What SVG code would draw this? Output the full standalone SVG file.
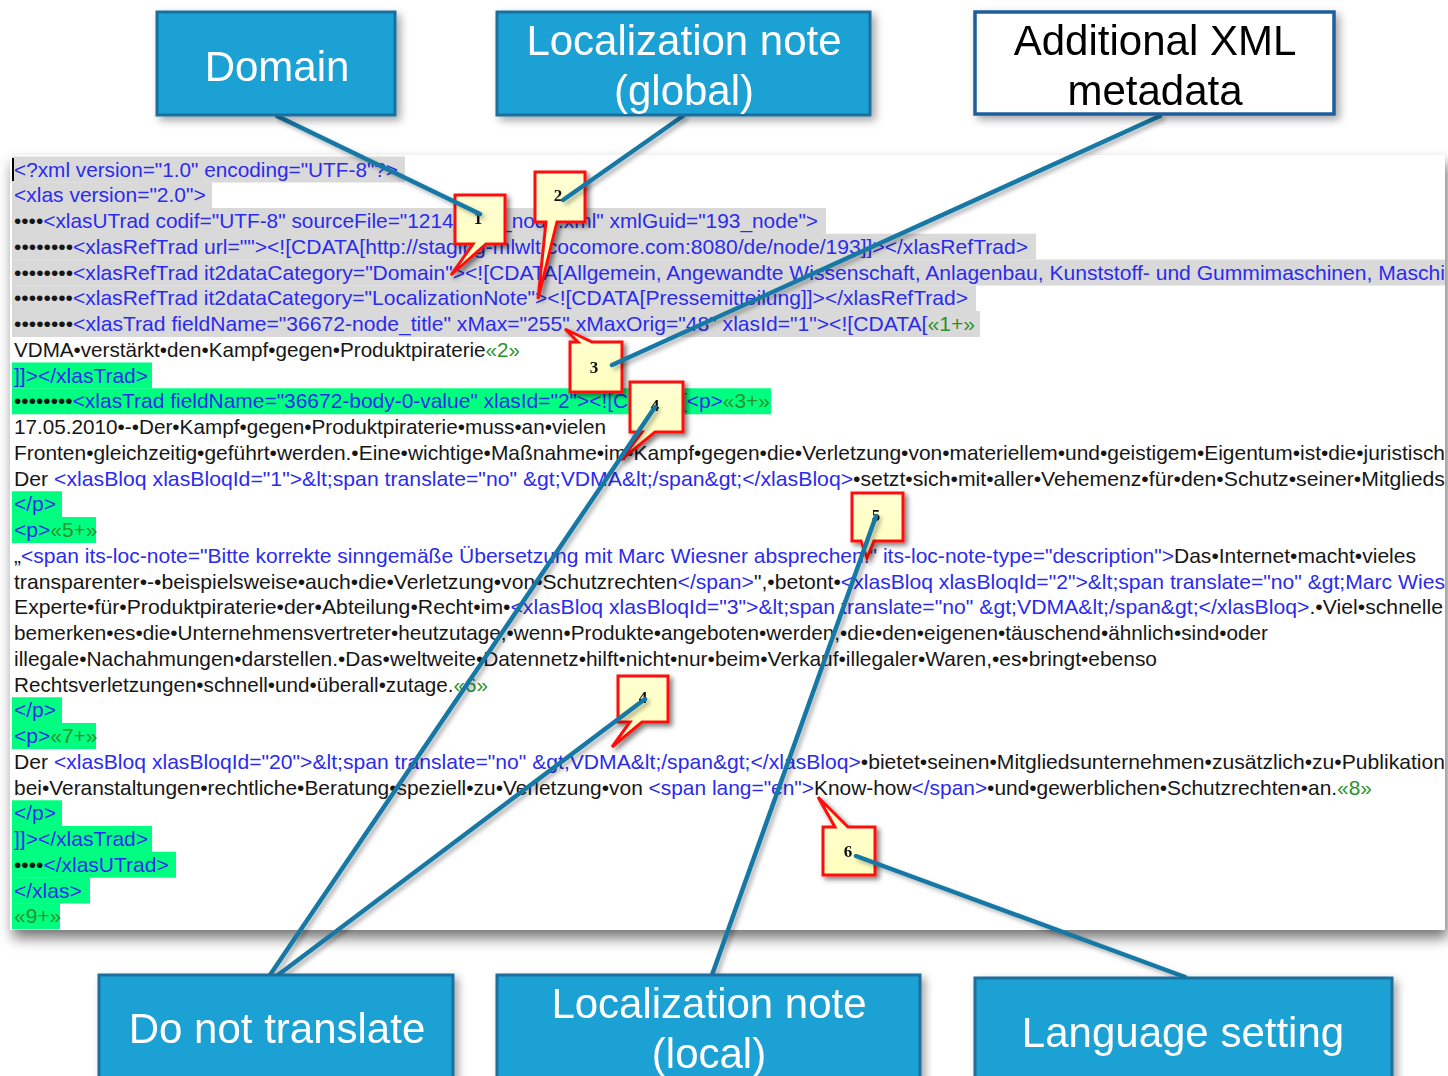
<svg xmlns="http://www.w3.org/2000/svg" width="1448" height="1076" viewBox="0 0 1448 1076">
  <defs>
    <style>
      .code { font-family: "Liberation Sans", Arial, sans-serif; font-size: 21px; }
      .b { fill: #2b2bee; }
      .k { fill: #161616; }
      .g { fill: #2a922a; }
      .selG { fill: #d9d9d9; }
      .selV { fill: #00ff80; }
      .lbl { fill: #1fa1d5; stroke: #1a6e9d; stroke-width: 3; }
      .lblText { font-family: "Liberation Sans", Arial, sans-serif; font-size: 42px; fill: #ffffff; text-anchor: middle; }
      .note { fill: url(#noteFill); stroke: #ff1010; stroke-width: 3; stroke-linejoin: miter; }
      .num { font-family: "Liberation Serif", "Times New Roman", serif; font-weight: bold; font-size: 17px; fill: #111; text-anchor: middle; }
      .conn { stroke: #1878a4; stroke-width: 4.5; stroke-linecap: round; fill: none; }
    </style>
    <linearGradient id="noteFill" x1="0" y1="0" x2="0" y2="1">
      <stop offset="0" stop-color="#ffffd2"/>
      <stop offset="1" stop-color="#ffffbe"/>
    </linearGradient>
    <filter id="panelShadow" x="-5%" y="-5%" width="110%" height="115%">
      <feDropShadow dx="3" dy="8" stdDeviation="7" flood-color="#000" flood-opacity="0.55"/>
    </filter>
    <filter id="boxShadow" x="-10%" y="-10%" width="130%" height="130%">
      <feDropShadow dx="4" dy="4" stdDeviation="4" flood-color="#000" flood-opacity="0.35"/>
    </filter>
    <filter id="noteShadow" x="-30%" y="-30%" width="170%" height="170%">
      <feDropShadow dx="3" dy="3" stdDeviation="2.5" flood-color="#000" flood-opacity="0.5"/>
    </filter>
    <filter id="lineShadow" x="-10%" y="-10%" width="130%" height="130%">
      <feDropShadow dx="3" dy="3" stdDeviation="2" flood-color="#000" flood-opacity="0.3"/>
    </filter>
    <clipPath id="panelClip">
      <rect x="10" y="155" width="1435" height="775"/>
    </clipPath>
  </defs>

  <rect width="1448" height="1076" fill="#ffffff"/>

  <!-- editor screenshot panel -->
  <g id="panel">
    <rect x="10" y="155" width="1435" height="775" fill="#ffffff" filter="url(#panelShadow)"/>
    <g clip-path="url(#panelClip)">
      <!-- selection highlights -->
      <rect class="selG" x="12" y="156.5" width="393" height="26"/>
      <rect class="selG" x="12" y="182.25" width="200" height="26"/>
      <rect class="selG" x="12" y="208" width="814" height="26"/>
      <rect class="selG" x="12" y="233.75" width="1024" height="26"/>
      <rect class="selG" x="12" y="259.5" width="1433" height="26"/>
      <rect class="selG" x="12" y="285.25" width="964" height="26"/>
      <rect class="selG" x="12" y="311" width="968" height="26"/>
      <rect class="selV" x="12" y="362.5" width="140" height="26"/>
      <rect class="selV" x="12" y="388.25" width="759" height="26"/>
      <rect class="selV" x="12" y="491.25" width="50" height="26"/>
      <rect class="selV" x="12" y="517" width="84" height="26"/>
      <rect class="selV" x="12" y="697.25" width="50" height="26"/>
      <rect class="selV" x="12" y="723" width="84" height="26"/>
      <rect class="selV" x="12" y="800.25" width="50" height="26"/>
      <rect class="selV" x="12" y="826" width="140" height="26"/>
      <rect class="selV" x="12" y="851.75" width="164" height="26"/>
      <rect class="selV" x="12" y="877.5" width="78" height="26"/>
      <rect class="selV" x="12" y="903.25" width="48" height="26"/>
      <!-- caret -->
      <rect x="12" y="158" width="2" height="23" fill="#000"/>

      <!-- source lines -->
      <text class="code" x="14" y="176.5" textLength="384" lengthAdjust="spacingAndGlyphs"><tspan class="b">&lt;?xml version="1.0" encoding="UTF-8"?&gt;</tspan></text>
      <text class="code" x="14" y="202.25"><tspan class="b">&lt;xlas version="2.0"&gt;</tspan></text>
      <text class="code" x="14" y="228" textLength="804" lengthAdjust="spacingAndGlyphs"><tspan class="k">••••</tspan><tspan class="b">&lt;xlasUTrad codif="UTF-8" sourceFile="1214_193_node.xml" xmlGuid="193_node"&gt;</tspan></text>
      <text class="code" x="14" y="253.75" textLength="1014" lengthAdjust="spacingAndGlyphs"><tspan class="k">••••••••</tspan><tspan class="b">&lt;xlasRefTrad url=""&gt;&lt;![CDATA[http://staging-mlwlt.cocomore.com:8080/de/node/193]]&gt;&lt;/xlasRefTrad&gt;</tspan></text>
      <text class="code" x="14" y="279.5" textLength="1431" lengthAdjust="spacingAndGlyphs"><tspan class="k">••••••••</tspan><tspan class="b">&lt;xlasRefTrad it2dataCategory="Domain"&gt;&lt;![CDATA[Allgemein, Angewandte Wissenschaft, Anlagenbau, Kunststoff- und Gummimaschinen, Maschi</tspan></text>
      <text class="code" x="14" y="305.25" textLength="954" lengthAdjust="spacingAndGlyphs"><tspan class="k">••••••••</tspan><tspan class="b">&lt;xlasRefTrad it2dataCategory="LocalizationNote"&gt;&lt;![CDATA[Pressemitteilung]]&gt;&lt;/xlasRefTrad&gt;</tspan></text>
      <text class="code" x="14" y="331" textLength="961" lengthAdjust="spacingAndGlyphs"><tspan class="k">••••••••</tspan><tspan class="b">&lt;xlasTrad fieldName="36672-node_title" xMax="255" xMaxOrig="48" xlasId="1"&gt;&lt;![CDATA[</tspan><tspan class="g">«1+»</tspan></text>
      <text class="code" x="14" y="356.75" textLength="506" lengthAdjust="spacingAndGlyphs"><tspan class="k">VDMA•verstärkt•den•Kampf•gegen•Produktpiraterie</tspan><tspan class="g">«2»</tspan></text>
      <text class="code" x="14" y="382.5"><tspan class="b">]]&gt;&lt;/xlasTrad&gt;</tspan></text>
      <text class="code" x="14" y="408.25" textLength="756" lengthAdjust="spacingAndGlyphs"><tspan class="k">••••••••</tspan><tspan class="b">&lt;xlasTrad fieldName="36672-body-0-value" xlasId="2"&gt;&lt;![CDATA[&lt;p&gt;</tspan><tspan class="g">«3+»</tspan></text>
      <text class="code" x="14" y="434" textLength="592" lengthAdjust="spacingAndGlyphs"><tspan class="k">17.05.2010•-•Der•Kampf•gegen•Produktpiraterie•muss•an•vielen</tspan></text>
      <text class="code" x="14" y="459.75" textLength="1431" lengthAdjust="spacingAndGlyphs"><tspan class="k">Fronten•gleichzeitig•geführt•werden.•Eine•wichtige•Maßnahme•im•Kampf•gegen•die•Verletzung•von•materiellem•und•geistigem•Eigentum•ist•die•juristisch</tspan></text>
      <text class="code" x="14" y="485.5" textLength="1431" lengthAdjust="spacingAndGlyphs"><tspan class="k">Der </tspan><tspan class="b">&lt;xlasBloq xlasBloqId="1"&gt;&amp;lt;span translate="no" &amp;gt;VDMA&amp;lt;/span&amp;gt;&lt;/xlasBloq&gt;</tspan><tspan class="k">•setzt•sich•mit•aller•Vehemenz•für•den•Schutz•seiner•Mitglieds</tspan></text>
      <text class="code" x="14" y="511.25"><tspan class="b">&lt;/p&gt;</tspan></text>
      <text class="code" x="14" y="537"><tspan class="b">&lt;p&gt;</tspan><tspan class="g">«5+»</tspan></text>
      <text class="code" x="14" y="562.75" textLength="1402" lengthAdjust="spacingAndGlyphs"><tspan class="k">„</tspan><tspan class="b">&lt;span its-loc-note="Bitte korrekte sinngemäße Übersetzung mit Marc Wiesner absprechen." its-loc-note-type="description"&gt;</tspan><tspan class="k">Das•Internet•macht•vieles</tspan></text>
      <text class="code" x="14" y="588.5" textLength="1431" lengthAdjust="spacingAndGlyphs"><tspan class="k">transparenter•-•beispielsweise•auch•die•Verletzung•von•Schutzrechten</tspan><tspan class="b">&lt;/span&gt;</tspan><tspan class="k">",•betont•</tspan><tspan class="b">&lt;xlasBloq xlasBloqId="2"&gt;&amp;lt;span translate="no" &amp;gt;Marc Wies</tspan></text>
      <text class="code" x="14" y="614.25" textLength="1429" lengthAdjust="spacingAndGlyphs"><tspan class="k">Experte•für•Produktpiraterie•der•Abteilung•Recht•im•</tspan><tspan class="b">&lt;xlasBloq xlasBloqId="3"&gt;&amp;lt;span translate="no" &amp;gt;VDMA&amp;lt;/span&amp;gt;&lt;/xlasBloq&gt;</tspan><tspan class="k">.•Viel•schnelle</tspan></text>
      <text class="code" x="14" y="640" textLength="1254" lengthAdjust="spacingAndGlyphs"><tspan class="k">bemerken•es•die•Unternehmensvertreter•heutzutage,•wenn•Produkte•angeboten•werden,•die•den•eigenen•täuschend•ähnlich•sind•oder</tspan></text>
      <text class="code" x="14" y="665.75" textLength="1143" lengthAdjust="spacingAndGlyphs"><tspan class="k">illegale•Nachahmungen•darstellen.•Das•weltweite•Datennetz•hilft•nicht•nur•beim•Verkauf•illegaler•Waren,•es•bringt•ebenso</tspan></text>
      <text class="code" x="14" y="691.5" textLength="474" lengthAdjust="spacingAndGlyphs"><tspan class="k">Rechtsverletzungen•schnell•und•überall•zutage.</tspan><tspan class="g">«6»</tspan></text>
      <text class="code" x="14" y="717.25"><tspan class="b">&lt;/p&gt;</tspan></text>
      <text class="code" x="14" y="743"><tspan class="b">&lt;p&gt;</tspan><tspan class="g">«7+»</tspan></text>
      <text class="code" x="14" y="768.75" textLength="1431" lengthAdjust="spacingAndGlyphs"><tspan class="k">Der </tspan><tspan class="b">&lt;xlasBloq xlasBloqId="20"&gt;&amp;lt;span translate="no" &amp;gt;VDMA&amp;lt;/span&amp;gt;&lt;/xlasBloq&gt;</tspan><tspan class="k">•bietet•seinen•Mitgliedsunternehmen•zusätzlich•zu•Publikation</tspan></text>
      <text class="code" x="14" y="794.5" textLength="1358" lengthAdjust="spacingAndGlyphs"><tspan class="k">bei•Veranstaltungen•rechtliche•Beratung•speziell•zu•Verletzung•von </tspan><tspan class="b">&lt;span lang="en"&gt;</tspan><tspan class="k">Know-how</tspan><tspan class="b">&lt;/span&gt;</tspan><tspan class="k">•und•gewerblichen•Schutzrechten•an.</tspan><tspan class="g">«8»</tspan></text>
      <text class="code" x="14" y="820.25"><tspan class="b">&lt;/p&gt;</tspan></text>
      <text class="code" x="14" y="846"><tspan class="b">]]&gt;&lt;/xlasTrad&gt;</tspan></text>
      <text class="code" x="14" y="871.75"><tspan class="k">••••</tspan><tspan class="b">&lt;/xlasUTrad&gt;</tspan></text>
      <text class="code" x="14" y="897.5"><tspan class="b">&lt;/xlas&gt;</tspan></text>
      <text class="code" x="14" y="923.25"><tspan class="g">«9+»</tspan></text>
    </g>
  </g>

  <!-- numbered callouts -->
  <g id="note1" filter="url(#noteShadow)">
    <path class="note" d="M455,195 H505 V244 H486 L451,275 L473,244 H455 Z"/>
    <text class="num" x="478" y="224">1</text>
  </g>
  <g id="note2" filter="url(#noteShadow)">
    <path class="note" d="M535,172 H585 V222 H557 L538,299 L546,222 H535 Z"/>
    <text class="num" x="558" y="201">2</text>
  </g>
  <g id="note3" filter="url(#noteShadow)">
    <path class="note" d="M570,342 H578 L565,329 L592,342 H622 V392 H570 Z"/>
    <text class="num" x="594" y="373">3</text>
  </g>
  <g id="note4a" filter="url(#noteShadow)">
    <path class="note" d="M630,382 H683 V432 H655 L621,460 L642,432 H630 Z"/>
    <text class="num" x="655" y="411">4</text>
  </g>
  <g id="note5" filter="url(#noteShadow)">
    <path class="note" d="M852,493 H903 V541 H874 L867,558 L861,541 H852 Z"/>
    <text class="num" x="876" y="521">5</text>
  </g>
  <g id="note4b" filter="url(#noteShadow)">
    <path class="note" d="M618,676 H668 V722 H642 L612,747 L630,722 H618 Z"/>
    <text class="num" x="643" y="703">4</text>
  </g>
  <g id="note6" filter="url(#noteShadow)">
    <path class="note" d="M823,827 H835 L818,797 L848,827 H875 V875 H823 Z"/>
    <text class="num" x="848" y="857">6</text>
  </g>

  <!-- connectors -->
  <g id="connectors" filter="url(#lineShadow)">
    <line class="conn" x1="277" y1="116" x2="480" y2="214"/>
    <line class="conn" x1="683" y1="116" x2="563" y2="200"/>
    <line class="conn" x1="1160" y1="116" x2="612" y2="365"/>
    <line class="conn" x1="270" y1="975" x2="655" y2="407"/>
    <line class="conn" x1="278" y1="975" x2="645" y2="699"/>
    <line class="conn" x1="712" y1="975" x2="876" y2="516"/>
    <line class="conn" x1="1185" y1="977" x2="856" y2="856"/>
  </g>

  <!-- label boxes -->
  <g id="domain" filter="url(#boxShadow)">
    <rect class="lbl" x="157" y="12" width="238" height="103"/>
    <text class="lblText" x="277" y="81">Domain</text>
  </g>
  <g id="locnote-global" filter="url(#boxShadow)">
    <rect class="lbl" x="497" y="12" width="373" height="103"/>
    <text class="lblText" x="684" y="55">Localization note</text>
    <text class="lblText" x="684" y="105">(global)</text>
  </g>
  <g id="xml-metadata" filter="url(#boxShadow)">
    <rect x="975" y="12" width="359" height="102" fill="#ffffff" stroke="#1c5f9c" stroke-width="3.5"/>
    <text class="lblText" x="1155" y="55" style="fill:#000">Additional XML</text>
    <text class="lblText" x="1155" y="105" style="fill:#000">metadata</text>
  </g>
  <g id="do-not-translate" filter="url(#boxShadow)">
    <rect class="lbl" x="99" y="975" width="354" height="115"/>
    <text class="lblText" x="277" y="1043">Do not translate</text>
  </g>
  <g id="locnote-local" filter="url(#boxShadow)">
    <rect class="lbl" x="497" y="975" width="423" height="115"/>
    <text class="lblText" x="709" y="1018">Localization note</text>
    <text class="lblText" x="709" y="1068">(local)</text>
  </g>
  <g id="language-setting" filter="url(#boxShadow)">
    <rect class="lbl" x="975" y="978" width="417" height="115"/>
    <text class="lblText" x="1183" y="1047">Language setting</text>
  </g>
</svg>
